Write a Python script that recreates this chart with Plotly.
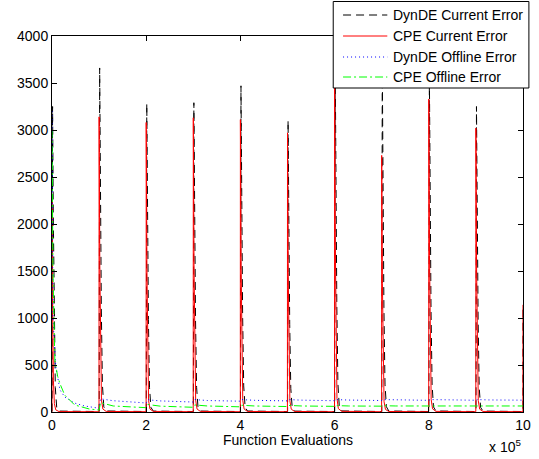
import plotly.graph_objects as go

# ---- data (x in units of 1e5 function evaluations) ----
change_points = [0, 1, 2, 3, 4, 5, 6, 7, 8, 9, 10]
dynde_peaks = [3250, 3660, 3280, 3290, 3470, 3100, 3800, 3700, 3600, 3250, 1100]
cpe_peaks = [2250, 3140, 3080, 3130, 3110, 2970, 3600, 2730, 3330, 3020, 1140]

# decay profile of the current error after a change (offset, fraction of peak)
cpe_decay_dx = [0.0, 0.015, 0.03, 0.05, 0.08, 0.15]
cpe_decay_rel = [1.0, 0.5, 0.15, 0.04, 0.01, 0.002]
dynde_decay_dx = [0.012, 0.027, 0.047, 0.07, 0.1, 0.15]
dynde_decay_rel = [1.0, 0.65, 0.3, 0.08, 0.015, 0.003]
cpe_base = 3
dynde_base = 5

# offline errors, first period read point by point
dynde_off_x0 = [0, 0.02, 0.08, 0.17, 0.27, 0.48, 0.69, 0.9, 1.0]
dynde_off_y0 = [3200, 1000, 480, 234, 160, 95, 64, 43, 40]
cpe_off_x0 = [0, 0.02, 0.06, 0.12, 0.17, 0.27, 0.48, 0.79, 1.0]
cpe_off_y0 = [3000, 1500, 550, 380, 300, 180, 75, 32, 21]

# offline errors in later periods: value just after change, at +0.3, at period end
dynde_off_start = [140, 130, 132, 132, 132, 132, 132, 132, 132]
dynde_off_mid = [120, 118, 122, 124, 126, 127, 128, 128, 128]
dynde_off_end = [96, 106, 115, 118, 120, 122, 124, 125, 126]
cpe_off_start = [100, 80, 75, 72, 70, 68, 67, 66, 66]
cpe_off_mid = [64, 62, 64, 64, 64, 64, 64, 64, 64]
cpe_off_end = [46, 50, 55, 58, 60, 62, 63, 64, 64]

x_ticks = [0, 2, 4, 6, 8, 10]
y_ticks = [0, 500, 1000, 1500, 2000, 2500, 3000, 3500, 4000]

series_names = ["DynDE Current Error", "CPE Current Error", "DynDE Offline Error", "CPE Offline Error"]
series_colors = ["#000000", "#ff0000", "#0000ff", "#00ff00"]
series_dashes = ["8px,5px", "solid", "1px,3px", "8px,3px,2px,3px"]


def current_series(peaks, dx, rel, base, lead):
    xs, ys = [], []
    for k, p in zip(change_points, peaks):
        if k == change_points[-1]:
            xs += [k - 0.001, k]
            ys += [base, p]
            break
        xs.append(k + lead)
        ys.append(base)
        for d, r in zip(dx, rel):
            xs.append(k + d)
            ys.append(max(p * r, base))
        xs.append(k + 1 - 0.002)
        ys.append(base)
    return xs, ys


def offline_series(x0, y0, starts, mids, ends):
    xs, ys = list(x0), list(y0)
    for i, k in enumerate(change_points[1:-1]):
        xs += [k + 0.03, k + 0.3, k + 1]
        ys += [starts[i], mids[i], ends[i]]
    return xs, ys


dx_c, dy_c = current_series(dynde_peaks, dynde_decay_dx, dynde_decay_rel, dynde_base, 0.002)
cx_c, cy_c = current_series(cpe_peaks, cpe_decay_dx, cpe_decay_rel, cpe_base, -0.001)
dx_o, dy_o = offline_series(dynde_off_x0, dynde_off_y0, dynde_off_start, dynde_off_mid, dynde_off_end)
cx_o, cy_o = offline_series(cpe_off_x0, cpe_off_y0, cpe_off_start, cpe_off_mid, cpe_off_end)

all_xy = [(dx_c, dy_c), (cx_c, cy_c), (dx_o, dy_o), (cx_o, cy_o)]

fig = go.Figure()
for (xs, ys), name, col, dash in zip(all_xy, series_names, series_colors, series_dashes):
    fig.add_trace(go.Scatter(x=xs, y=ys, mode="lines", name=name,
                             line=dict(color=col, width=1, dash=dash)))

font = dict(family="Liberation Sans, Arial, sans-serif", size=14, color="black")

# ---- legend box drawn in paper coordinates (MATLAB-style, overlapping the axes) ----
W, H = 539, 459
ml, mr, mt, mb = 52, 8, 36, 47
pw, ph = W - ml - mr, H - mt - mb


def px_x(p):
    return (p - ml) / pw


def px_y(p):
    return (H - mb - p) / ph


shapes = [dict(type="rect", xref="paper", yref="paper", layer="above",
               x0=px_x(338), x1=px_x(537), y0=px_y(88), y1=px_y(1.5),
               fillcolor="white", line=dict(color="black", width=1))]
annotations = []
row_y = [15, 36, 57, 77]
for ry, name, col, dash in zip(row_y, series_names, series_colors, series_dashes):
    shapes.append(dict(type="line", xref="paper", yref="paper", layer="above",
                       x0=px_x(348), x1=px_x(393), y0=px_y(ry), y1=px_y(ry),
                       line=dict(color=col, width=1, dash=dash)))
    annotations.append(dict(text=name, xref="paper", yref="paper", x=px_x(397), y=px_y(ry),
                            xanchor="left", yanchor="middle", showarrow=False, font=font))

annotations += [
    dict(text="Function Evaluations", xref="paper", yref="paper", x=px_x(292), y=px_y(440),
         xanchor="center", yanchor="middle", showarrow=False, font=font),
    dict(text="x 10<sup>5</sup>", xref="paper", yref="paper", x=px_x(531), y=px_y(446),
         xanchor="right", yanchor="middle", showarrow=False, font=font),
]

fig.update_layout(
    width=W, height=H,
    margin=dict(l=ml, r=mr, t=mt, b=mb),
    paper_bgcolor="white", plot_bgcolor="white",
    font=font,
    showlegend=False,
    xaxis=dict(range=[0, 10], tickvals=x_ticks, ticktext=[str(v) for v in x_ticks],
               showgrid=False, zeroline=False, showline=True, linecolor="black", linewidth=1,
               mirror="ticks", ticks="inside", ticklen=5, tickcolor="black", tickfont=font),
    yaxis=dict(range=[0, 4000], tickvals=y_ticks, ticktext=[str(v) for v in y_ticks],
               showgrid=False, zeroline=False, showline=True, linecolor="black", linewidth=1,
               mirror="ticks", ticks="inside", ticklen=5, tickcolor="black", tickfont=font),
    shapes=shapes,
    annotations=annotations,
)

fig.write_html("out.html")
